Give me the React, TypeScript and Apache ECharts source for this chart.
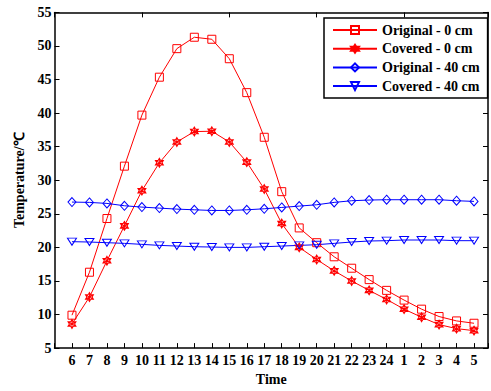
import React, { useEffect, useRef } from "react";
import * as echarts from "echarts";

const categories = ["6","7","8","9","10","11","12","13","14","15","16","17","18","19","20","21","22","23","24","1","2","3","4","5"];
const original0 = [9.9,16.3,24.3,32.1,39.7,45.35,49.6,51.3,51.0,48.1,43.05,36.4,28.3,22.9,20.7,18.6,16.9,15.2,13.6,12.15,10.8,9.7,9.05,8.7];
const covered0 = [8.6,12.6,18.0,23.2,28.45,32.6,35.7,37.25,37.3,35.7,32.7,28.7,23.55,20.0,18.2,16.5,15.0,13.6,12.25,10.8,9.6,8.5,7.9,7.6];
const original40 = [26.75,26.7,26.55,26.2,26.0,25.85,25.7,25.6,25.5,25.5,25.6,25.75,25.95,26.15,26.35,26.7,26.95,27.05,27.1,27.1,27.1,27.1,26.95,26.85];
const covered40 = [20.85,20.8,20.7,20.6,20.45,20.3,20.2,20.1,20.05,20.0,20.0,20.1,20.2,20.3,20.4,20.6,20.8,20.95,21.0,21.1,21.1,21.1,21.0,21.0];
const yTicks = { min: 5, max: 55, interval: 5 };
const seriesNames = ["Original - 0 cm", "Covered - 0 cm", "Original - 40 cm", "Covered - 40 cm"];

const FONT = "'Liberation Serif', 'Times New Roman', serif";
const hexagram =
  "path://M50,0 L64.4,25 L93.3,25 L78.9,50 L93.3,75 L64.4,75 L50,100 L35.6,75 L6.7,75 L21.1,50 L6.7,25 L35.6,25 Z M6.7,25 L93.3,75 M93.3,25 L6.7,75 M50,0 L50,100";

const toPairs = (vals: number[]) => vals.map((v, i) => [i + 6, v]);

export default function App() {
  const ref = useRef<HTMLDivElement>(null);
  useEffect(() => {
    if (!ref.current) return;
    const chart = echarts.init(ref.current, null, { renderer: "svg" });
    const mk = (name: string, data: number[], color: string, symbol: string, size: any, rotate = 0) => ({
      name,
      type: "line",
      data: toPairs(data),
      symbol,
      symbolSize: size,
      symbolRotate: rotate,
      showAllSymbol: true,
      lineStyle: { color, width: 1 },
      itemStyle: { color: "rgba(255,255,255,0)", borderColor: color, borderWidth: 1 },
      emphasis: { disabled: true },
      z: 3,
    });
    chart.setOption({
      animation: false,
      backgroundColor: "#fff",
      textStyle: { fontFamily: FONT },
      grid: { left: 54.5, right: 1, top: 12.4, bottom: 35 },
      legend: {
        orient: "vertical",
        left: 324,
        top: 18,
        backgroundColor: "#fff",
        borderColor: "#000",
        borderWidth: 1.5,
        borderRadius: 0,
        padding: [5, 8, 5, 8],
        itemGap: 4.7,
        itemWidth: 44,
        itemHeight: 10,
        z: 10,
        textStyle: { fontFamily: FONT, fontWeight: "bold", fontSize: 14, color: "#000" },
        data: seriesNames,
      },
      xAxis: [
        {
          type: "value",
          min: 5,
          max: 29.8,
          interval: 1,
          name: "Time",
          nameLocation: "middle",
          nameGap: 20,
          nameTextStyle: { fontFamily: FONT, fontWeight: "bold", fontSize: 14, color: "#000" },
          axisLine: { onZero: false, lineStyle: { color: "#000", width: 1.5 } },
          axisTick: { inside: true, length: 5, lineStyle: { color: "#000" } },
          splitLine: { show: false },
          axisLabel: {
            margin: 5,
            fontFamily: FONT,
            fontWeight: "bold",
            fontSize: 14,
            color: "#000",
            showMinLabel: true,
            showMaxLabel: true,
            formatter: (v: number) => {
              const i = Math.round(v) - 6;
              return Math.abs(v - Math.round(v)) < 1e-6 && i >= 0 && i < categories.length ? categories[i] : "";
            },
          },
        },
        {
          type: "value",
          position: "top",
          min: 5,
          max: 29.8,
          interval: 5,
          axisLine: { onZero: false, lineStyle: { color: "#000", width: 1.5 } },
          axisTick: { inside: true, length: 5, lineStyle: { color: "#000" } },
          axisLabel: { show: false },
          splitLine: { show: false },
        },
      ],
      yAxis: [
        {
          type: "value",
          min: yTicks.min,
          max: yTicks.max,
          interval: yTicks.interval,
          name: "Temperature/\u2103",
          nameLocation: "middle",
          nameGap: 27,
          nameTextStyle: { fontFamily: FONT, fontWeight: "bold", fontSize: 14, color: "#000" },
          axisLine: { show: true, onZero: false, lineStyle: { color: "#000", width: 1.5 } },
          axisTick: { show: true, inside: true, length: 5, lineStyle: { color: "#000" } },
          splitLine: { show: false },
          axisLabel: { margin: 3, fontFamily: FONT, fontWeight: "bold", fontSize: 14, color: "#000" },
        },
        {
          type: "value",
          position: "right",
          min: yTicks.min,
          max: yTicks.max,
          interval: yTicks.interval,
          axisLine: { show: true, onZero: false, lineStyle: { color: "#000", width: 1.5 } },
          axisTick: { show: true, inside: true, length: 5, lineStyle: { color: "#000" } },
          axisLabel: { show: false },
          splitLine: { show: false },
        },
      ],
      series: [
        mk(seriesNames[0], original0, "#ff0000", "rect", 8),
        mk(seriesNames[1], covered0, "#ff0000", hexagram, [8, 9]),
        mk(seriesNames[2], original40, "#0000ff", "diamond", [8, 9]),
        mk(seriesNames[3], covered40, "#0000ff", "triangle", [9, 7], 180),
      ],
    });
    return () => chart.dispose();
  }, []);
  return (
    <div
      ref={ref}
      style={{ position: "fixed", left: 0, top: 0, width: 491, height: 391, background: "#fff" }}
    />
  );
}
